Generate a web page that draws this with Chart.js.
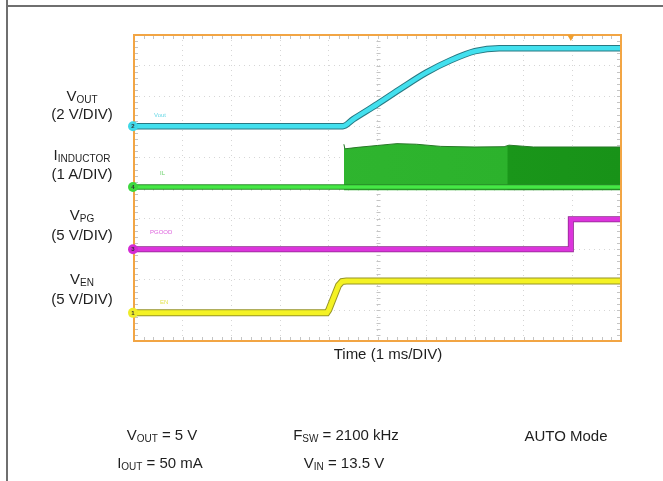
<!DOCTYPE html>
<html>
<head>
<meta charset="utf-8">
<script src="https://cdn.jsdelivr.net/npm/chart.js@4.4.1/dist/chart.umd.min.js"></script>
<style>
    body {
        margin: 0;
        background: #fff;
        font-family: Arial, "Liberation Sans", sans-serif;
        color: #1e1e1e;
    }

    #wrap {
        position: relative;
        width: 663px;
        height: 481px;
        overflow: hidden;
    }

    #myChart {
        position: absolute;
        left: 0;
        top: 0;
    }

    .frameTop {
        position: absolute;
        left: 6px;
        top: 5px;
        width: 657px;
        height: 2px;
        background: #6f6f6f;
    }

    .frameLeft {
        position: absolute;
        left: 6px;
        top: 0;
        width: 2px;
        height: 481px;
        background: #6f6f6f;
    }

    .lbl {
        position: absolute;
        font-size: 15px;
        line-height: 1;
        white-space: nowrap;
        transform: translate(-50%, -50%);
    }

    .lbl sub {
        font-size: 10px;
        vertical-align: -2px;
        line-height: 1;
    }
</style>
</head>
<body>
<div id="wrap">
    <canvas id="myChart" width="663" height="481"></canvas>
    <div class="frameTop"></div>
    <div class="frameLeft"></div>

    <div class="lbl" style="left:82px; top:96px;">V<sub>OUT</sub></div>
    <div class="lbl" style="left:82px; top:113px;">(2 V/DIV)</div>
    <div class="lbl" style="left:82px; top:155px;">I<sub>INDUCTOR</sub></div>
    <div class="lbl" style="left:82px; top:173px;">(1 A/DIV)</div>
    <div class="lbl" style="left:82px; top:215px;">V<sub>PG</sub></div>
    <div class="lbl" style="left:82px; top:234px;">(5 V/DIV)</div>
    <div class="lbl" style="left:82px; top:279px;">V<sub>EN</sub></div>
    <div class="lbl" style="left:82px; top:298px;">(5 V/DIV)</div>

    <div class="lbl" style="left:388px; top:353px;">Time (1 ms/DIV)</div>

    <div class="lbl" style="left:162px; top:435px;">V<sub>OUT</sub> = 5 V</div>
    <div class="lbl" style="left:346px; top:435px;">F<sub>SW</sub> = 2100 kHz</div>
    <div class="lbl" style="left:566px; top:435px;">AUTO Mode</div>
    <div class="lbl" style="left:160px; top:463px;">I<sub>OUT</sub> = 50 mA</div>
    <div class="lbl" style="left:344px; top:463px;">V<sub>IN</sub> = 13.5 V</div>
</div>

<script>
// tela do osciloscopio: 10 x 10 divisoes, 1 ms/DIV
var timeMin = 0
var timeMax = 10

// escala e posicao do zero de cada canal (divisoes a partir de baixo)
var voutPerDiv = 2, voutZeroDiv = 7.02
var ilPerDiv = 1, ilZeroDiv = 5.03
var pgPerDiv = 5, pgZeroDiv = 3.0
var enPerDiv = 5, enZeroDiv = 0.92

// V_OUT (V)
var voutTime = [0, 4.29, 4.5, 5.0, 5.5, 6.0, 6.5, 7.0, 7.5, 10]
var voutVolts = [0, 0, 0.45, 1.45, 2.5, 3.5, 4.3, 4.9, 5.1, 5.1]

// I_INDUCTOR (A): linha de base e envelope do chaveamento
var ilBaseTime = [0, 10]
var ilBase = [0, 0]
var ilTime = [4.31, 4.33, 4.6, 5.0, 5.4, 5.8, 6.3, 7.0, 7.6, 7.7, 8.2, 9.0, 10]
var ilPeak = [1.40, 1.25, 1.30, 1.36, 1.42, 1.40, 1.33, 1.31, 1.32, 1.37, 1.31, 1.31, 1.31]
var ilValley = [-0.1, -0.1, -0.1, -0.1, -0.1, -0.1, -0.1, -0.1, -0.1, -0.1, -0.1, -0.1, -0.1]

// V_PG (V)
var pgTime = [0, 8.97, 8.97, 10]
var pgVolts = [0, 0, 4.9, 4.9]

// V_EN (V)
var enTime = [0, 3.96, 4.0, 4.2, 4.27, 4.36, 10]
var enVolts = [0, 0, 0.5, 4.5, 5.1, 5.2, 5.2]

var triggerTime = 8.97

function pontos(xs, ys) {
    var lista = []
    for (var i = 0; i < xs.length; i++) {
        lista.push({ x: xs[i], y: ys[i] })
    }
    return lista
}

function eixoCanal(perDiv, zeroDiv) {
    return {
        type: 'linear',
        display: false,
        min: -zeroDiv * perDiv,
        max: (10 - zeroDiv) * perDiv
    }
}

function corEnvelope(context) {
    var chart = context.chart
    var area = chart.chartArea
    if (!area) {
        return 'rgb(42,182,42)'
    }
    var corte = (chart.scales.x.getPixelForValue(7.65) - area.left) / (area.right - area.left)
    var g = chart.ctx.createLinearGradient(area.left, 0, area.right, 0)
    g.addColorStop(0, 'rgb(50,184,50)')
    g.addColorStop(corte, 'rgb(44,178,44)')
    g.addColorStop(corte + 0.004, 'rgb(26,150,26)')
    g.addColorStop(1, 'rgb(24,146,24)')
    return g
}

function linha(ctx, x1, y1, x2, y2) {
    ctx.beginPath()
    ctx.moveTo(x1, y1)
    ctx.lineTo(x2, y2)
    ctx.stroke()
}

// detalhes da tela: subdivisoes, nomes pequenos, marcadores dos canais, borda
const scopeDecor = {
    id: 'scopeDecor',
    beforeDatasetsDraw(chart) {
        const ctx = chart.ctx
        const a = chart.chartArea
        const xs = chart.scales.x
        const ys = chart.scales.grid
        const cx = Math.round(xs.getPixelForValue(5)) + 0.5
        const cy = Math.round(ys.getPixelForValue(5)) + 0.5
        ctx.save()
        ctx.strokeStyle = '#c4c4c4'
        ctx.lineWidth = 1
        for (let i = 0; i <= 50; i++) {
            const px = Math.round(xs.getPixelForValue(i / 5)) + 0.5
            linha(ctx, px, a.top, px, a.top + 4)
            linha(ctx, px, a.bottom - 4, px, a.bottom)
            linha(ctx, px, cy - 2, px, cy + 2)
            const py = Math.round(ys.getPixelForValue(i / 5)) + 0.5
            linha(ctx, a.left, py, a.left + 4, py)
            linha(ctx, a.right - 4, py, a.right, py)
            linha(ctx, cx - 2, py, cx + 2, py)
        }

        ctx.font = '6px Arial'
        ctx.textBaseline = 'middle'
        ctx.fillStyle = 'rgba(40,200,220,0.7)'
        ctx.fillText('Vout', a.left + 20, chart.scales.vout.getPixelForValue(0) - 11)
        ctx.fillStyle = 'rgba(40,190,40,0.7)'
        ctx.fillText('IL', a.left + 26, chart.scales.il.getPixelForValue(0) - 14)
        ctx.fillStyle = 'rgba(210,40,210,0.75)'
        ctx.fillText('PGOOD', a.left + 16, chart.scales.pg.getPixelForValue(0) - 17)
        ctx.fillStyle = 'rgba(220,220,30,0.8)'
        ctx.fillText('EN', a.left + 26, chart.scales.en.getPixelForValue(0) - 11)
        ctx.restore()
    },
    afterDatasetsDraw(chart) {
        const ctx = chart.ctx
        const a = chart.chartArea
        ctx.save()
        ctx.strokeStyle = '#f2a544'
        ctx.lineWidth = 2
        ctx.strokeRect(a.left, a.top, a.right - a.left, a.bottom - a.top)

        // marcador do trigger
        const tx = chart.scales.x.getPixelForValue(triggerTime)
        ctx.fillStyle = '#f0a030'
        ctx.beginPath()
        ctx.moveTo(tx - 3.5, a.top)
        ctx.lineTo(tx + 3.5, a.top)
        ctx.lineTo(tx, a.top + 6)
        ctx.closePath()
        ctx.fill()

        const canais = [
            ['vout', '2', '#3fd8e8'],
            ['il', '4', '#3ed83e'],
            ['pg', '3', '#d42ad4'],
            ['en', '1', '#eeec28']
        ]
        ctx.font = 'bold 6px Arial'
        ctx.textAlign = 'center'
        ctx.textBaseline = 'middle'
        canais.forEach(function (c) {
            const y = chart.scales[c[0]].getPixelForValue(0)
            ctx.fillStyle = c[2]
            ctx.beginPath()
            ctx.arc(a.left - 1, y, 5, 0, Math.PI * 2)
            ctx.fill()
            ctx.fillStyle = '#333'
            ctx.fillText(c[1], a.left - 1, y + 0.5)
        })
        ctx.restore()
    }
}

const voutData = pontos(voutTime, voutVolts)
const enData = pontos(enTime, enVolts)
const pgData = pontos(pgTime, pgVolts)
const ilBaseData = pontos(ilBaseTime, ilBase)

const config = {
    type: 'line',
    data: {
        datasets: [
            // envelope da corrente (preenchido ate o vale)
            {
                label: 'I_INDUCTOR pico',
                data: pontos(ilTime, ilPeak),
                yAxisID: 'il',
                borderColor: 'rgb(40,120,40)',
                borderWidth: 1,
                backgroundColor: corEnvelope,
                fill: '+1',
                pointRadius: 0,
                order: 5
            },
            {
                label: 'I_INDUCTOR vale',
                data: pontos(ilTime, ilValley),
                yAxisID: 'il',
                borderColor: 'rgba(0,0,0,0)',
                borderWidth: 0,
                fill: false,
                pointRadius: 0,
                order: 5
            },
            // contornos escuros
            { data: voutData, yAxisID: 'vout', borderColor: 'rgb(40,120,130)', borderWidth: 6.5, pointRadius: 0, cubicInterpolationMode: 'monotone', order: 3 },
            { data: ilBaseData, yAxisID: 'il', borderColor: 'rgb(40,140,40)', borderWidth: 5.5, pointRadius: 0, order: 3 },
            { data: pgData, yAxisID: 'pg', borderColor: 'rgb(140,40,140)', borderWidth: 6, pointRadius: 0, order: 3 },
            { data: enData, yAxisID: 'en', borderColor: 'rgb(150,148,40)', borderWidth: 7, pointRadius: 0, order: 3 },
            // tracos
            { label: 'V_OUT', data: voutData, yAxisID: 'vout', borderColor: '#42e0ee', borderWidth: 4.5, pointRadius: 0, cubicInterpolationMode: 'monotone', order: 1 },
            { label: 'I_INDUCTOR', data: ilBaseData, yAxisID: 'il', borderColor: '#45e845', borderWidth: 3.5, pointRadius: 0, order: 1 },
            { label: 'V_PG', data: pgData, yAxisID: 'pg', borderColor: '#dc34dc', borderWidth: 4.5, pointRadius: 0, order: 1 },
            { label: 'V_EN', data: enData, yAxisID: 'en', borderColor: '#f4f224', borderWidth: 5, pointRadius: 0, order: 1 }
        ]
    },
    options: {
        responsive: false,
        animation: false,
        events: [],
        layout: {
            padding: { left: 134, top: 35, right: 42, bottom: 140 }
        },
        plugins: {
            legend: { display: false },
            tooltip: { enabled: false }
        },
        scales: {
            x: {
                type: 'linear',
                min: timeMin,
                max: timeMax,
                ticks: { display: false, stepSize: 1 },
                grid: {
                    drawTicks: false,
                    color: function (context) {
                        var v = context.tick.value
                        return (v == timeMin || v == timeMax) ? 'rgba(0,0,0,0)' : 'rgba(0,0,0,0.16)'
                    }
                },
                border: { display: false, dash: [1, 4] }
            },
            grid: {
                type: 'linear',
                position: 'left',
                min: 0,
                max: 10,
                ticks: { display: false, stepSize: 1 },
                grid: {
                    drawTicks: false,
                    color: function (context) {
                        var v = context.tick.value
                        return (v == 0 || v == 10) ? 'rgba(0,0,0,0)' : 'rgba(0,0,0,0.16)'
                    }
                },
                border: { display: false, dash: [1, 4] }
            },
            vout: eixoCanal(voutPerDiv, voutZeroDiv),
            il: eixoCanal(ilPerDiv, ilZeroDiv),
            pg: eixoCanal(pgPerDiv, pgZeroDiv),
            en: eixoCanal(enPerDiv, enZeroDiv)
        }
    },
    plugins: [scopeDecor]
}

const myChart = new Chart(document.getElementById('myChart'), config)
</script>
</body>
</html>
